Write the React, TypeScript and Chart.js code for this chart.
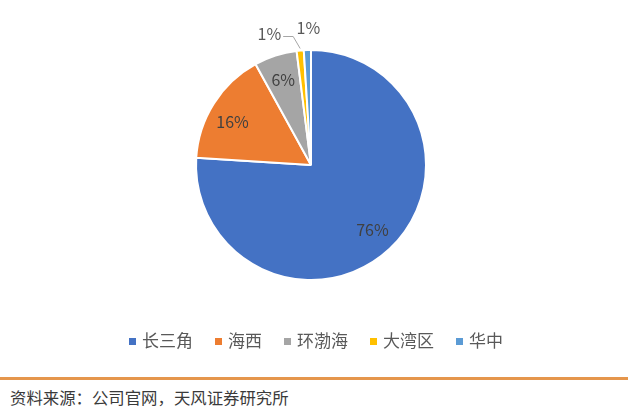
import React, { useEffect, useRef } from "react";
import { Chart, registerables } from "chart.js";

Chart.register(...registerables);

const categories = ["长三角", "海西", "环渤海", "大湾区", "华中"];
const shares = [76, 16, 6, 1, 1];
const colors = ["#4472C4", "#ED7D31", "#A5A5A5", "#FFC000", "#5B9BD5"];
const sourceText = "资料来源：公司官网，天风证券研究所";

const FONT = "'Noto Sans CJK SC', 'Noto Sans', sans-serif";

const labelPlugin = {
  id: "pieLabels",
  afterDatasetsDraw(chart: any) {
    const ctx = chart.ctx;
    const meta = chart.getDatasetMeta(0);
    ctx.save();
    ctx.font = `16px ${FONT}`;
    ctx.fillStyle = "#595959";
    ctx.textBaseline = "middle";
    meta.data.forEach((arc: any, i: number) => {
      const { x, y, startAngle, endAngle, outerRadius } = arc.getProps(
        ["x", "y", "startAngle", "endAngle", "outerRadius"],
        true
      );
      const mid = (startAngle + endAngle) / 2;
      const text = shares[i] + "%";
      if (shares[i] >= 5) {
        const r = outerRadius * 0.78;
        const a = shares[i] > 10 && shares[i] < 50 ? mid - 0.06 : mid;
        ctx.textAlign = "center";
        ctx.fillStyle = "#404040";
        ctx.fillText(text, x + Math.cos(a) * r, y + Math.sin(a) * r);
      } else {
        ctx.fillStyle = "#595959";
        const ex = x + Math.cos(mid) * outerRadius;
        const ey = y + Math.sin(mid) * outerRadius;
        if (i === 3) {
          ctx.strokeStyle = "#A6A6A6";
          ctx.lineWidth = 1;
          ctx.beginPath();
          ctx.moveTo(ex, ey - 2);
          ctx.lineTo(ex - 7, ey - 14);
          ctx.lineTo(ex - 17, ey - 14);
          ctx.stroke();
          ctx.textAlign = "right";
          ctx.fillText(text, ex - 19, ey - 17);
        } else {
          ctx.textAlign = "center";
          ctx.fillText(text, ex + 1, ey - 22);
        }
      }
    });
    ctx.restore();
  },
};

export default function App() {
  const ref = useRef<HTMLCanvasElement>(null);
  useEffect(() => {
    if (!ref.current) return;
    const chart = new Chart(ref.current, {
      type: "pie",
      data: {
        labels: categories,
        datasets: [
          {
            data: shares,
            backgroundColor: colors,
            borderColor: "#ffffff",
            borderWidth: 2,
            radius: 115,
          },
        ],
      },
      options: {
        responsive: false,
        animation: false,
        layout: { padding: { top: 0, bottom: 40, left: 0, right: 18 } },
        plugins: {
          tooltip: { enabled: false },
          legend: { display: false },
        },
      },
      plugins: [labelPlugin],
    });
    return () => chart.destroy();
  }, []);

  return (
    <div
      style={{
        position: "fixed",
        left: 0,
        top: 0,
        width: 640,
        height: 418,
        background: "#ffffff",
        overflow: "hidden",
      }}
    >
      <canvas ref={ref} width={640} height={370} style={{ display: "block" }} />
      <div
        style={{
          position: "absolute",
          left: 129,
          top: 330,
          height: 20,
          display: "flex",
          alignItems: "center",
          fontFamily: FONT,
          fontSize: 17,
          lineHeight: "20px",
          color: "#595959",
          whiteSpace: "nowrap",
        }}
      >
        {categories.map((c, i) => (
          <div
            key={c}
            style={{
              display: "flex",
              alignItems: "center",
              marginRight: i < categories.length - 1 ? 22 : 0,
            }}
          >
            <span
              style={{
                display: "inline-block",
                width: 7,
                height: 7,
                background: colors[i],
                marginRight: 6,
                marginTop: 3,
              }}
            />
            <span>{c}</span>
          </div>
        ))}
      </div>
      <div
        style={{
          position: "absolute",
          left: 0,
          top: 377,
          width: 628,
          height: 3,
          background: "#E5964C",
        }}
      />
      <div
        style={{
          position: "absolute",
          left: 10,
          top: 386,
          fontFamily: FONT,
          fontSize: 16.4,
          lineHeight: "22px",
          color: "#3A3A3A",
          whiteSpace: "nowrap",
        }}
      >
        {sourceText}
      </div>
    </div>
  );
}
